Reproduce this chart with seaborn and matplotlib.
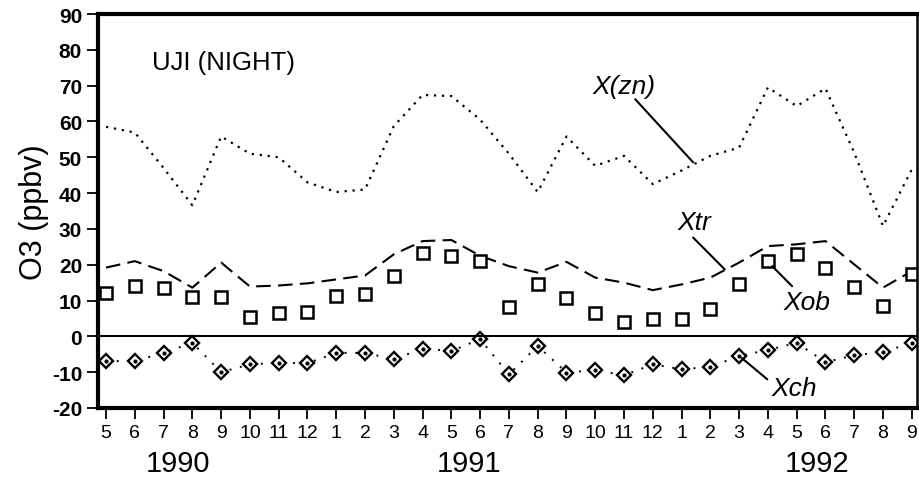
import numpy as np
import pandas as pd
import seaborn as sns
import matplotlib.pyplot as plt

# monthly values, May 1990 .. Sep 1992
months = [5, 6, 7, 8, 9, 10, 11, 12,
          1, 2, 3, 4, 5, 6, 7, 8, 9, 10, 11, 12,
          1, 2, 3, 4, 5, 6, 7, 8, 9]
x_zn = [58.5, 56.9, 47.0, 36.6, 55.8, 51.0, 50.0, 43.0, 40.3, 41.0, 58.7, 67.4, 67.1, 60.5,
        51.0, 40.3, 55.8, 47.6, 50.4, 42.5, 46.3, 50.4, 52.7, 69.5, 64.3, 69.2, 51.3, 30.8, 46.6]
x_tr = [19.2, 21.0, 18.2, 13.6, 20.6, 13.9, 14.2, 14.8, 15.9, 17.0, 22.9, 26.6, 26.9, 22.5,
        19.6, 17.8, 20.8, 16.4, 15.0, 12.9, 14.5, 16.4, 20.6, 25.2, 25.7, 26.6, 20.1, 13.6, 18.2]
x_ob = [12.2, 14.0, 13.6, 11.0, 11.0, 5.5, 6.4, 6.9, 11.3, 11.9, 16.8, 23.4, 22.4, 21.0,
        8.3, 14.5, 10.6, 6.4, 4.0, 4.9, 4.9, 7.5, 14.5, 21.0, 22.9, 19.2, 13.9, 8.5, 17.3]
x_ch = [-6.9, -6.9, -4.6, -1.8, -10.0, -7.8, -7.4, -7.5, -4.6, -4.6, -6.4, -3.4, -4.1, -0.8,
        -10.6, -2.7, -10.1, -9.4, -10.9, -7.8, -9.2, -8.5, -5.5, -3.8, -1.8, -7.2, -5.3, -4.4, -1.8]
years = ["1990", "1991", "1992"]
year_pos = [2.5, 12.6, 24.7]

df = pd.DataFrame({"t": np.arange(len(months)), "zn": x_zn, "tr": x_tr,
                   "ob": x_ob, "ch": x_ch})

sns.set_theme(style="ticks")
plt.rcParams["font.family"] = ["Liberation Sans", "DejaVu Sans"]
plt.rcParams["text.color"] = "black"
plt.rcParams["axes.labelcolor"] = "black"
plt.rcParams["xtick.color"] = "black"
plt.rcParams["ytick.color"] = "black"

fig, ax = plt.subplots(figsize=(9.2, 4.81), dpi=100)
fig.subplots_adjust(left=0.1065, right=0.9967, bottom=0.1497, top=0.9688)

sns.lineplot(data=df, x="t", y="zn", ax=ax, color="black", lw=1.6,
             linestyle=(0, (1, 2.6)))
sns.lineplot(data=df, x="t", y="tr", ax=ax, color="black", lw=1.5,
             linestyle=(0, (7, 3.5)))
sns.lineplot(data=df, x="t", y="ch", ax=ax, color="black", lw=1.4,
             linestyle=(0, (1, 4.5)))
ax.plot(df["t"], df["ob"], ls="none", marker="s", ms=9, mfc="white",
        mec="black", mew=1.8)
ax.plot(df["t"], df["ch"], ls="none", marker="D", ms=7.3, mfc="white",
        mec="black", mew=1.7)
ax.plot(df["t"], df["ch"], ls="none", marker="o", ms=2, color="black")

ax.axhline(0, color="black", lw=1.5)

ax.set_xlim(-0.28, 28.18)
ax.set_ylim(-20, 90)
ax.set_yticks(np.arange(-20, 91, 10))
ax.set_yticklabels([str(v) for v in range(-20, 91, 10)], fontsize=15, fontweight="bold")
ax.set_xticks(np.arange(len(months)))
ax.set_xticklabels([str(m) for m in months], fontsize=14)
ax.tick_params(axis="both", direction="out", length=8, width=1.3)
ax.set_xlabel("")
ax.set_ylabel("O3 (ppbv)", fontsize=22, labelpad=2)

for name in ["left", "bottom", "top"]:
    ax.spines[name].set_linewidth(3.0)
ax.spines["right"].set_linewidth(1.8)
for s in ax.spines.values():
    s.set_color("black")

for yr, p in zip(years, year_pos):
    ax.text(p, -0.14, yr, transform=ax.get_xaxis_transform(), ha="center",
            va="center", fontsize=21)

ax.text(1.6, 76.5, "UJI (NIGHT)", fontsize=18.5, ha="left", va="center")
ax.text(18.0, 69.8, "X(zn)", fontsize=19, style="italic", ha="center", va="center")
ax.plot([18.39, 20.4], [66.2, 48.6], color="black", lw=1.5)
ax.text(20.45, 31.8, "Xtr", fontsize=19, style="italic", ha="center", va="center")
ax.plot([20.4, 21.5], [27.6, 18.7], color="black", lw=1.5)
ax.text(24.37, 9.5, "Xob", fontsize=19, style="italic", ha="center", va="center")
ax.plot([23.15, 23.84], [19.6, 14.0], color="black", lw=1.5)
ax.text(23.9, -14.5, "Xch", fontsize=19, style="italic", ha="center", va="center")
ax.plot([22.1, 22.98], [-6.1, -12.0], color="black", lw=1.5)

fig.savefig("out.png", dpi=100)
